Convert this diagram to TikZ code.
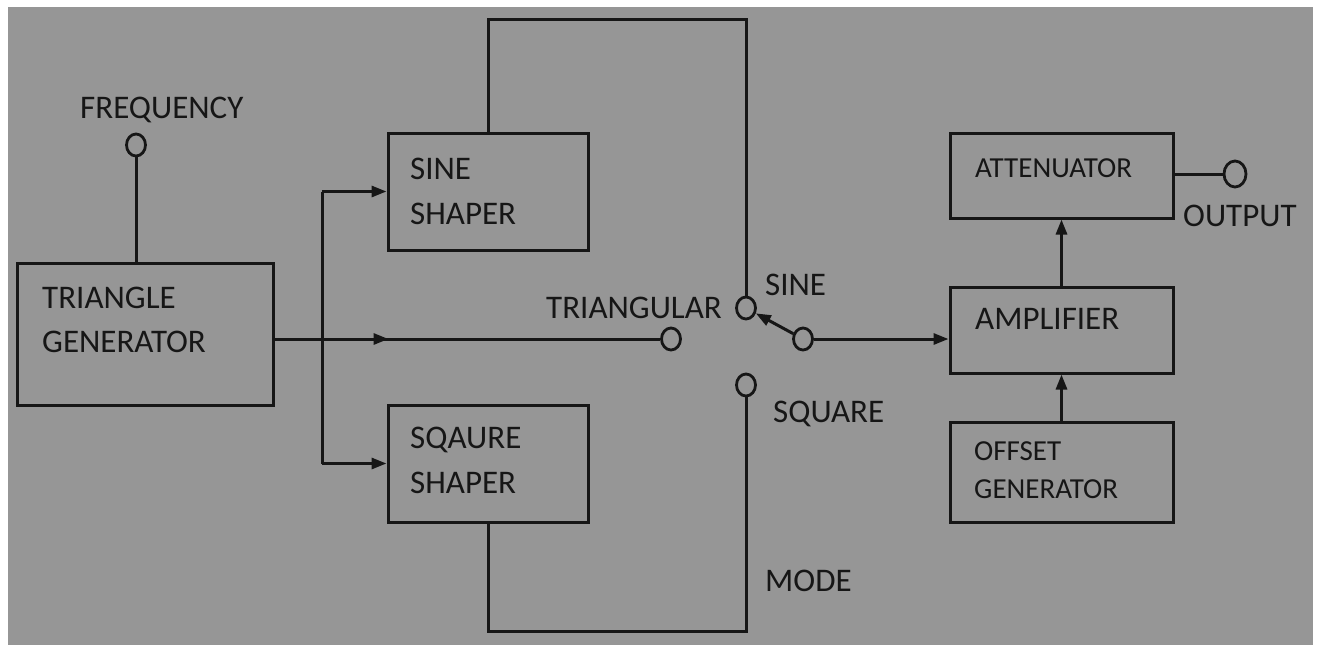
\documentclass[tikz,border=0pt]{standalone}
\usepackage{fontspec}
\setmainfont{Carlito}
\usetikzlibrary{arrows.meta,decorations.markings,shapes.geometric}
\definecolor{bg}{HTML}{969696}
\definecolor{ink}{HTML}{161616}
\tikzset{
  blk/.style={draw=ink,line width=3pt,inner sep=0pt,rectangle},
  lbl/.style={anchor=base west,inner sep=0pt,text=ink,font=\fontsize{33}{40}\selectfont},
  slbl/.style={lbl,font=\fontsize{29}{35}\selectfont},
  term/.style={ellipse,draw=ink,line width=2.8pt,inner sep=0pt,minimum width=19pt,minimum height=22pt},
  wire/.style={draw=ink,line width=3pt},
  arr/.style={wire,-{Triangle[length=15pt,width=11pt]}},
  midarr/.style={postaction={decorate},decoration={markings,mark=at position #1 with {\arrow[ink]{Triangle[length=15pt,width=11pt]}}}}
}
\begin{document}
\begin{tikzpicture}[x=1pt,y=-1pt]
\useasboundingbox (0,0) rectangle (1317,651);
\fill[white] (0,0) rectangle (1317,651);
\fill[bg] (8,7) rectangle (1313,645);

% boxes
\node[blk,minimum width=256pt,minimum height=142pt] (trig) at (145,334) {};
\node[blk,minimum width=200pt,minimum height=117pt] (sine) at (488,191.5) {};
\node[blk,minimum width=200pt,minimum height=117pt] (sq) at (488,463.5) {};
\node[blk,minimum width=223pt,minimum height=85pt] (att) at (1061.5,175.5) {};
\node[blk,minimum width=223pt,minimum height=86pt] (amp) at (1061.5,330) {};
\node[blk,minimum width=223pt,minimum height=100pt] (off) at (1061.5,472) {};

% terminals
\node[term] (fc) at (136,145) {};
\node[term] (sinec) at (746,308) {};
\node[term] (tric) at (671,339) {};
\node[term] (comc) at (803,339) {};
\node[term] (sqc) at (746,385) {};
\node[term,minimum width=22pt,minimum height=26pt] (outc) at (1235,174) {};

% texts
\node[lbl] (tfreq) at (80,118.6) {FREQUENCY};
\node[lbl] (ttrig1) at (42,308.6) {TRIANGLE};
\node[lbl] (ttrig2) at (42,352.6) {GENERATOR};
\node[lbl] (tsine1) at (410,179.6) {SINE};
\node[lbl] (tsine2) at (410,224.6) {SHAPER};
\node[lbl] (tsq1) at (410,448.6) {SQAURE};
\node[lbl] (tsq2) at (410,493.6) {SHAPER};
\node[lbl,anchor=base east] (ttri) at (722,318.6) {TRIANGULAR};
\node[lbl] (tsinel) at (765,295.6) {SINE};
\node[lbl] (tsql) at (773,422.6) {SQUARE};
\node[lbl] (tmode) at (765,591.6) {MODE};
\node[slbl] (tatt) at (975,177.3) {ATTENUATOR};
\node[lbl] (tout) at (1183,226.6) {OUTPUT};
\node[lbl] (tamp) at (975,329.6) {AMPLIFIER};
\node[slbl] (toff1) at (974,460.3) {OFFSET};
\node[slbl] (toff2) at (974,498.3) {GENERATOR};

% helper coordinates
\coordinate (top) at (0,19);
\coordinate (bot) at (0,631);
\coordinate (jx) at (322,0);

% connectors
\draw[wire] (fc.south) -- (fc.south |- trig.north);
\draw[wire,midarr=114pt] (trig.east |- tric.west) -- (tric.west);
\draw[wire] (jx |- sine.west) -- (jx |- sq.west);
\draw[arr] (jx |- sine.west) -- (sine.west);
\draw[arr] (jx |- sq.west) -- (sq.west);
\draw[wire] (sine.north) -- (sine.north |- top) -| (sinec.north);
\draw[wire] (sq.south) -- (sq.south |- bot) -| (sqc.south);
\draw[arr] (comc) -- (sinec);
\draw[arr] (comc.east) -- (comc.east -| amp.west);
\draw[arr] (amp.north) -- (att.south);
\draw[arr] (off.north) -- (amp.south);
\draw[wire] (att.east |- outc.west) -- (outc.west);
\end{tikzpicture}
\end{document}
